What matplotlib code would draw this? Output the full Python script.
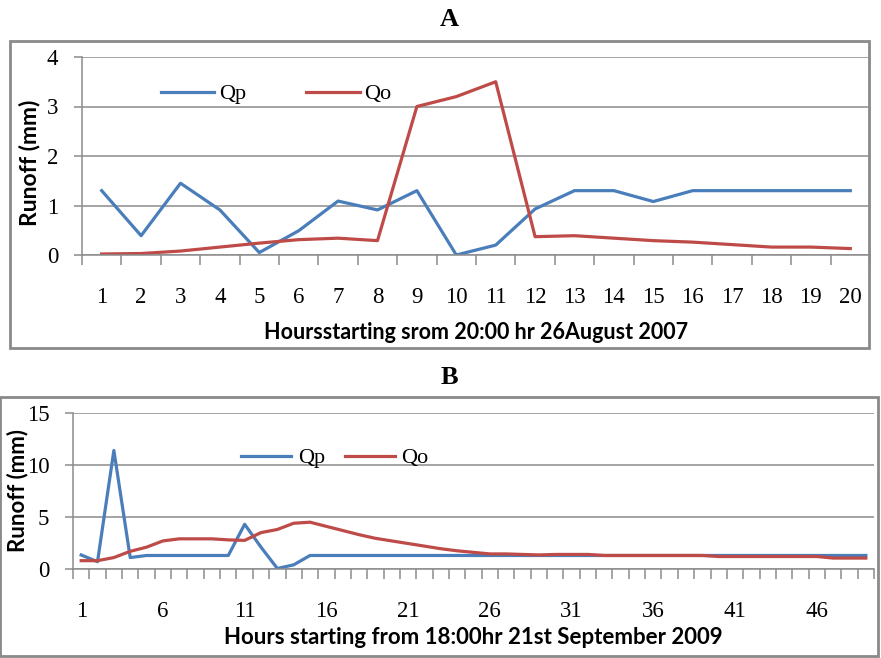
import matplotlib
matplotlib.use("Agg")
import matplotlib.pyplot as plt
from matplotlib.patches import Rectangle
import numpy as np

# Event A: hourly runoff starting 20:00 hr 26 August 2007
hours_a = list(range(1, 21))
qp_a = [1.30, 0.39, 1.45, 0.91, 0.05, 0.49, 1.09, 0.91, 1.30, 0.00,
        0.20, 0.93, 1.30, 1.30, 1.08, 1.30, 1.30, 1.30, 1.30, 1.30]
qo_a = [0.02, 0.03, 0.08, 0.16, 0.24, 0.31, 0.34, 0.29, 3.00, 3.20,
        3.50, 0.37, 0.39, 0.34, 0.29, 0.26, 0.21, 0.16, 0.16, 0.13]

# Event B: hourly runoff starting 18:00 hr 21 September 2009
hours_b = list(range(1, 50))
qp_b = [1.35, 0.70, 11.40, 1.10, 1.30, 1.30, 1.30, 1.30, 1.30, 1.30,
        4.30, 2.10, 0.05, 0.40, 1.30, 1.30, 1.30, 1.30, 1.30, 1.30,
        1.30, 1.30, 1.30, 1.30, 1.30, 1.30, 1.30, 1.30, 1.30, 1.30,
        1.30, 1.30, 1.30, 1.30, 1.30, 1.30, 1.30, 1.30, 1.30, 1.30,
        1.30, 1.30, 1.30, 1.30, 1.30, 1.30, 1.30, 1.30, 1.30]
qo_b = [0.80, 0.80, 1.10, 1.70, 2.10, 2.70, 2.90, 2.90, 2.90, 2.80,
        2.75, 3.50, 3.80, 4.40, 4.50, 4.10, 3.70, 3.30, 2.95, 2.70,
        2.45, 2.20, 1.95, 1.75, 1.60, 1.45, 1.45, 1.40, 1.35, 1.40,
        1.40, 1.40, 1.30, 1.30, 1.30, 1.30, 1.30, 1.30, 1.30, 1.20,
        1.20, 1.20, 1.20, 1.20, 1.20, 1.20, 1.05, 1.05, 1.05]

labels_a = [str(h) for h in hours_a]
labels_b_pos = list(range(1, 50, 5))

BLUE = "#4A7EBB"
RED = "#BE4B48"
GRID = "#8C8C8C"
FRAME = "#8A8A8A"
TICK_FONT = "Liberation Serif"
LABEL_FONT = "Lato"

W, H = 881, 658
fig = plt.figure(figsize=(W / 100, H / 100), dpi=100)


def fx(px):
    return px / W


def fy(py):
    return 1 - py / H


def style_axes(ax, ymax, ystep, n, xticks, xlabels, tick_size):
    ax.set_xlim(0.5, n + 0.5)
    ax.set_ylim(0, ymax)
    yt = np.arange(0, ymax + 0.001, ystep)
    ax.set_yticks(yt)
    ax.set_yticklabels([str(int(v)) for v in yt],
                       fontfamily=TICK_FONT, fontsize=tick_size)
    ax.yaxis.grid(True, color=GRID, linewidth=1.1)
    ax.set_axisbelow(True)
    for s in ("top", "right"):
        ax.spines[s].set_visible(False)
    for s in ("left", "bottom"):
        ax.spines[s].set_color(GRID)
        ax.spines[s].set_linewidth(1.1)
    ax.tick_params(axis="y", length=6, width=1.1, color=GRID, pad=11)
    ax.set_xticks(np.arange(0.5, n + 1, 1.0), minor=True)
    ax.set_xticks(xticks)
    ax.set_xticklabels(xlabels, fontfamily=TICK_FONT, fontsize=tick_size)
    ax.tick_params(axis="x", which="major", length=0, pad=23)
    ax.tick_params(axis="x", which="minor", length=7, width=1.1, color=GRID,
                   direction="out")


def place_labels(ax, ylab_xy, xlab_xy):
    ax.yaxis.set_label_coords(*ylab_xy)
    ax.yaxis.label.set_verticalalignment("center")
    ax.xaxis.set_label_coords(*xlab_xy)
    ax.xaxis.label.set_verticalalignment("center")


# ---- Panel A ----
fig.patches.append(Rectangle((fx(10), fy(348)), fx(869) - fx(10), fy(41) - fy(348),
                             transform=fig.transFigure, fill=False,
                             edgecolor=FRAME, linewidth=2.0))
fig.text(fx(449), fy(19), "A", ha="center", va="center",
         fontfamily=TICK_FONT, fontweight="bold", fontsize=19)

ax1 = fig.add_axes([fx(82), fy(255), fx(870) - fx(82), fy(57) - fy(255)])
ax1.plot(hours_a, qp_a, color=BLUE, linewidth=2.3, label="Qp")
ax1.plot(hours_a, qo_a, color=RED, linewidth=2.3, label="Qo")
style_axes(ax1, 4, 1, 20, hours_a, labels_a, 16.5)
ax1.set_ylabel("Runoff (mm)", fontfamily=LABEL_FONT, fontweight="bold",
               fontsize=16.5)
ax1.set_xlabel("Hoursstarting srom 20:00 hr 26August 2007", fontfamily=LABEL_FONT,
               fontweight="bold", fontsize=15.5)
place_labels(ax1, (-0.066, 0.465), (0.5, -0.389))
ax1.legend(loc="center left", bbox_to_anchor=(0.086, 0.813), ncol=2,
           frameon=False, borderpad=0, handlelength=2.4, handletextpad=0.22,
           columnspacing=2.7, prop={"family": TICK_FONT, "size": 16})

# ---- Panel B ----
fig.patches.append(Rectangle((fx(0), fy(656)), fx(878) - fx(0), fy(397) - fy(656),
                             transform=fig.transFigure, fill=False,
                             edgecolor=FRAME, linewidth=2.0))
fig.text(fx(449), fy(377), "B", ha="center", va="center",
         fontfamily=TICK_FONT, fontweight="bold", fontsize=19)

ax2 = fig.add_axes([fx(73), fy(569), fx(874) - fx(73), fy(413) - fy(569)])
ax2.plot(hours_b, qp_b, color=BLUE, linewidth=2.3, label="Qp")
ax2.plot(hours_b, qo_b, color=RED, linewidth=2.3, label="Qo")
style_axes(ax2, 15, 5, 49, labels_b_pos, [str(v) for v in labels_b_pos], 16.5)
ax2.set_ylabel("Runoff (mm)", fontfamily=LABEL_FONT, fontweight="bold",
               fontsize=16)
ax2.set_xlabel("Hours starting from 18:00hr 21st September 2009",
               fontfamily=LABEL_FONT, fontweight="bold", fontsize=16)
place_labels(ax2, (-0.0699, 0.506), (0.5, -0.436))
ax2.legend(loc="center left", bbox_to_anchor=(0.196, 0.7115), ncol=2,
           frameon=False, borderpad=0, handlelength=2.25, handletextpad=0.3,
           columnspacing=0.9, prop={"family": TICK_FONT, "size": 16})

fig.savefig("out.png", dpi=100)
